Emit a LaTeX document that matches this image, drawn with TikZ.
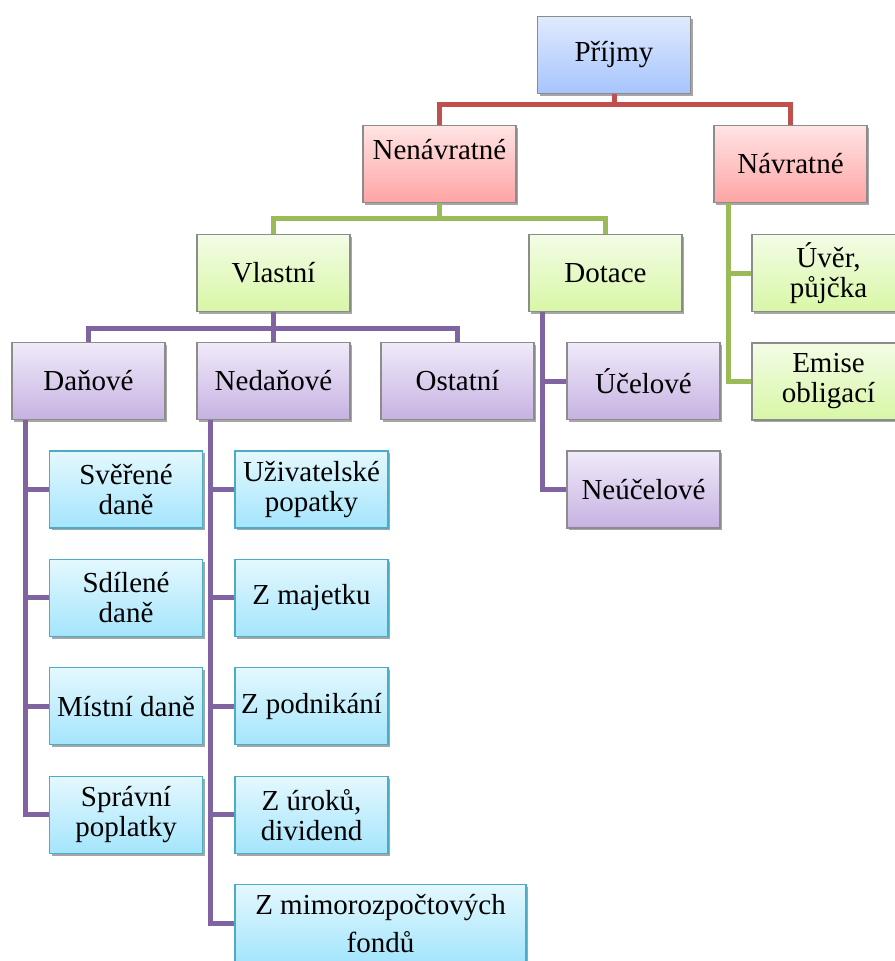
\documentclass[tikz,border=0pt]{standalone}
\usepackage{fontspec}
\setmainfont{Liberation Serif}
\usetikzlibrary{positioning,shadows}

\definecolor{lnred}{HTML}{C0504D}
\definecolor{lngreen}{HTML}{9BBB59}
\definecolor{lnpurple}{HTML}{8064A2}
\definecolor{edgegray}{HTML}{8C8C8C}
\definecolor{edgecyan}{HTML}{4BACC6}

\tikzstyle{box} = [rectangle, minimum width=114.75pt, minimum height=57.75pt, inner sep=0pt, align=center, text centered, draw=edgegray, line width=0.8pt, font=\fontsize{21.75}{22.5}\selectfont, drop shadow={shadow xshift=1.6pt, shadow yshift=-1.6pt, opacity=0.35, fill=black}]
\tikzstyle{boxblue} = [box, top color={rgb,255:red,224;green,234;blue,253}, bottom color={rgb,255:red,166;green,196;blue,253}]
\tikzstyle{boxred} = [box, top color={rgb,255:red,255;green,228;blue,228}, bottom color={rgb,255:red,255;green,164;blue,164}]
\tikzstyle{boxgreen} = [box, top color={rgb,255:red,243;green,252;blue,230}, bottom color={rgb,255:red,216;green,247;blue,166}]
\tikzstyle{boxpurple} = [box, top color={rgb,255:red,240;green,234;blue,249}, bottom color={rgb,255:red,198;green,178;blue,226}]
\tikzstyle{boxcyan} = [box, draw=edgecyan, top color={rgb,255:red,228;green,248;blue,254}, bottom color={rgb,255:red,164;green,229;blue,252}]
\tikzstyle{redline} = [draw=lnred, line width=3.75pt]
\tikzstyle{greenline} = [draw=lngreen, line width=3.75pt]
\tikzstyle{purpleline} = [draw=lnpurple, line width=3.75pt]

\begin{document}
\begin{tikzpicture}[x=0.75pt, y=-0.75pt, node distance=22.8pt]
    \useasboundingbox (0,0) rectangle (894,961);

    \node (prijmy)    [boxblue]   at (614,55)    {Příjmy};
    \node (nenavr)    [boxred]    at (439.5,164) {Nenávratné\\~};
    \node (navr)      [boxred]    at (790.5,164) {Návratné};
    \node (vlastni)   [boxgreen]  at (273.5,273) {Vlastní};
    \node (dotace)    [boxgreen]  at (605.5,273) {Dotace};
    \node (uver)      [boxgreen]  at (828.5,273) {Úvěr,\\půjčka};
    \node (emise)     [boxgreen, below=of uver] {Emise\\obligací};
    \node (danove)    [boxpurple] at (88.5,381)  {Daňové};
    \node (nedanove)  [boxpurple] at (273.5,381) {Nedaňové};
    \node (ostatni)   [boxpurple] at (457.5,381) {Ostatní};
    \node (ucelove)   [boxpurple] at (643.5,381) {Účelové};
    \node (neucelove) [boxpurple, below=of ucelove] {Neúčelové};

    \node (sverene)   [boxcyan] at (126,489.5)  {Svěřené\\daně};
    \node (sdilene)   [boxcyan, below=of sverene] {Sdílené\\daně};
    \node (mistni)    [boxcyan, below=of sdilene] {Místní daně};
    \node (spravni)   [boxcyan, below=of mistni]  {Správní\\poplatky};

    \node (uzivatel)  [boxcyan] at (311.5,489.5) {Uživatelské\\popatky};
    \node (majetek)   [boxcyan, below=of uzivatel]  {Z majetku};
    \node (podnik)    [boxcyan, below=of majetek]   {Z podnikání};
    \node (uroky)     [boxcyan, below=of podnik]    {Z úroků,\\dividend};
    \node (fondy)     [boxcyan, minimum width=218.25pt, below=of uroky.south west, anchor=north west] {Z mimorozpočtových\\[6pt]fondů};

    \draw [redline] (prijmy.south) -- +(0,10) -| (nenavr.north);
    \draw [redline] (prijmy.south) -- +(0,10) -| (navr.north);

    \draw [greenline] (nenavr.south) -- +(0,15) -| (vlastni.north);
    \draw [greenline] (nenavr.south) -- +(0,15) -| (dotace.north);
    \draw [greenline] ([xshift=11.25pt]navr.south west) |- (uver.west);
    \draw [greenline] ([xshift=11.25pt]navr.south west) |- (emise.west);

    \draw [purpleline] (vlastni.south) -- +(0,16) -| (danove.north);
    \draw [purpleline] (vlastni.south) -- +(0,16) -| (nedanove.north);
    \draw [purpleline] (vlastni.south) -- +(0,16) -| (ostatni.north);
    \draw [purpleline] ([xshift=10.5pt]dotace.south west) |- (ucelove.west);
    \draw [purpleline] ([xshift=10.5pt]dotace.south west) |- (neucelove.west);

    \draw [purpleline] ([xshift=10.5pt]danove.south west) |- (sverene.west);
    \draw [purpleline] ([xshift=10.5pt]danove.south west) |- (sdilene.west);
    \draw [purpleline] ([xshift=10.5pt]danove.south west) |- (mistni.west);
    \draw [purpleline] ([xshift=10.5pt]danove.south west) |- (spravni.west);

    \draw [purpleline] ([xshift=10.5pt]nedanove.south west) |- (uzivatel.west);
    \draw [purpleline] ([xshift=10.5pt]nedanove.south west) |- (majetek.west);
    \draw [purpleline] ([xshift=10.5pt]nedanove.south west) |- (podnik.west);
    \draw [purpleline] ([xshift=10.5pt]nedanove.south west) |- (uroky.west);
    \draw [purpleline] ([xshift=10.5pt]nedanove.south west) |- (fondy.west);
\end{tikzpicture}
\end{document}
